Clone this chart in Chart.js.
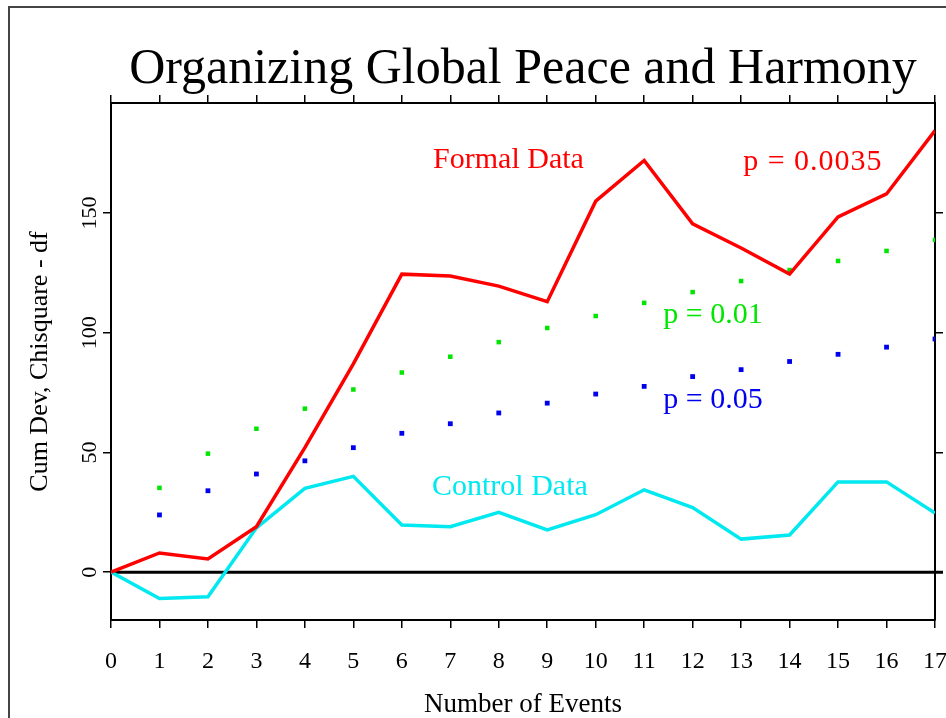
<!DOCTYPE html>
<html>
<head>
<meta charset="utf-8">
<title>Organizing Global Peace and Harmony</title>
<script src="https://cdn.jsdelivr.net/npm/chart.js@4/dist/chart.umd.min.js"></script>
<style>
  html, body { margin: 0; padding: 0; background: #fff; }
  #wrap { position: relative; width: 946px; height: 718px; }
</style>
</head>
<body>
<div id="wrap"><canvas id="chart" width="946" height="718"></canvas></div>
<script>
// ── data ─────────────────────────────────────────────────────────────────────

const events = [0, 1, 2, 3, 4, 5, 6, 7, 8, 9, 10, 11, 12, 13, 14, 15, 16, 17];
const formalData = [0, 8, 5.5, 19, 52, 87, 124.5, 123.7, 119.5, 113, 155, 172, 145.5, 135.4, 124.5, 148.4, 158, 184.5];
const controlData = [0, -11, -10.3, 18.5, 35, 40, 19.7, 19, 25, 17.6, 24, 34.4, 27, 13.8, 15.5, 37.7, 37.7, 24.7];

const thresholdEvents = [1, 2, 3, 4, 5, 6, 7, 8, 9, 10, 11, 12, 13, 14, 15, 16, 17];
const p01 = [35.2, 49.5, 59.9, 68.3, 76.3, 83.4, 90, 96.1, 102, 107, 112.5, 117, 121.6, 126.2, 130, 134.2, 138.8];
const p05 = [23.9, 34, 41, 46.5, 52, 58, 62, 66.5, 70.6, 74.4, 77.6, 81.7, 84.6, 88, 91, 94, 97.4];

const yTicks = [0, 50, 100, 150];

// text notes placed in data units
const notes = [
  { text: 'Formal Data', x: 8.2, y: 172, color: '#ff0000', spacing: 0 },
  { text: 'p = 0.0035', x: 14.48, y: 171.5, color: '#ff0000', spacing: 1 },
  { text: 'p = 0.01', x: 12.42, y: 107.3, color: '#00e600', spacing: 0 },
  { text: 'p = 0.05', x: 12.42, y: 71.7, color: '#0000ee', spacing: 0 },
  { text: 'Control Data', x: 8.23, y: 35.6, color: '#00e8f0', spacing: 0 },
];

// ── helpers ──────────────────────────────────────────────────────────────────

const SERIF = "'Liberation Serif', 'DejaVu Serif', serif";

function pts(xs, ys) {
  return xs.map((x, i) => ({ x, y: ys[i] }));
}

function fixBox(w, h) {
  return (s) => {
    if (w !== null) s.width = w;
    if (h !== null) s.height = h;
    s.paddingLeft = 0;
    s.paddingRight = 0;
    s.paddingTop = 0;
    s.paddingBottom = 0;
  };
}

const axisGrid = { drawOnChartArea: false, drawTicks: true, tickLength: 8, color: '#000', lineWidth: 1.5 };
const axisBorder = { display: true, color: '#000', width: 2 };

// ── plugins ──────────────────────────────────────────────────────────────────

const decor = {
  id: 'decor',
  beforeDraw(chart) {
    const { ctx, width, height, chartArea: a } = chart;
    ctx.save();
    ctx.fillStyle = '#fff';
    ctx.fillRect(0, 0, width, height);
    // outer frame (left and top edges visible)
    ctx.strokeStyle = '#444';
    ctx.lineWidth = 2;
    ctx.beginPath();
    ctx.moveTo(9, height);
    ctx.lineTo(9, 7);
    ctx.lineTo(width, 7);
    ctx.stroke();
    // title
    ctx.fillStyle = '#000';
    ctx.font = '50px ' + SERIF;
    ctx.textAlign = 'center';
    ctx.textBaseline = 'alphabetic';
    ctx.fillText('Organizing Global Peace and Harmony', (a.left + a.right) / 2, 83);
    ctx.restore();
  },
  beforeDatasetsDraw(chart) {
    const { ctx, chartArea: a, scales } = chart;
    const y0 = scales.y.getPixelForValue(0);
    ctx.save();
    ctx.strokeStyle = '#000';
    ctx.lineWidth = 3;
    ctx.beginPath();
    ctx.moveTo(a.left, y0);
    ctx.lineTo(a.right + 8, y0);
    ctx.stroke();
    ctx.restore();
  },
  afterDatasetsDraw(chart) {
    const { ctx, scales } = chart;
    ctx.save();
    ctx.font = '30px ' + SERIF;
    ctx.textAlign = 'center';
    ctx.textBaseline = 'middle';
    notes.forEach((n) => {
      ctx.fillStyle = n.color;
      ctx.letterSpacing = n.spacing + 'px';
      ctx.fillText(n.text, scales.x.getPixelForValue(n.x), scales.y.getPixelForValue(n.y));
    });
    ctx.restore();
  },
};

// ── chart ────────────────────────────────────────────────────────────────────

new Chart(document.getElementById('chart'), {
  type: 'line',
  data: {
    datasets: [
      {
        label: 'Formal Data',
        data: pts(events, formalData),
        borderColor: '#ff0000',
        borderWidth: 3.5,
        pointRadius: 0,
        tension: 0,
      },
      {
        label: 'Control Data',
        data: pts(events, controlData),
        borderColor: '#00e8f0',
        borderWidth: 3.5,
        pointRadius: 0,
        tension: 0,
      },
      {
        label: 'p = 0.01',
        data: pts(thresholdEvents, p01),
        showLine: false,
        pointStyle: 'rect',
        pointRadius: 3.2,
        pointBorderWidth: 0,
        pointBackgroundColor: '#00e600',
        borderColor: '#00e600',
      },
      {
        label: 'p = 0.05',
        data: pts(thresholdEvents, p05),
        showLine: false,
        pointStyle: 'rect',
        pointRadius: 3.4,
        pointBorderWidth: 0,
        pointBackgroundColor: '#0000ee',
        borderColor: '#0000ee',
      },
    ],
  },
  options: {
    responsive: false,
    animation: false,
    events: [],
    layout: { padding: { top: 90, left: 0, right: 0, bottom: 0 } },
    plugins: {
      legend: { display: false },
      tooltip: { enabled: false },
      title: { display: false },
    },
    scales: {
      x: {
        type: 'linear',
        position: 'bottom',
        min: 0,
        max: 17,
        grid: axisGrid,
        border: axisBorder,
        ticks: {
          stepSize: 1,
          color: '#000',
          padding: 19,
          maxRotation: 0,
          autoSkip: false,
          font: { family: SERIF, size: 24 },
        },
        title: {
          display: true,
          text: 'Number of Events',
          color: '#000',
          padding: { top: 0, bottom: -3 },
          font: { family: SERIF, size: 27 },
        },
        afterFit: fixBox(null, 98),
      },
      x2: {
        type: 'linear',
        position: 'top',
        min: 0,
        max: 17,
        grid: axisGrid,
        border: axisBorder,
        ticks: { stepSize: 1, display: false, autoSkip: false },
        afterFit: fixBox(null, 13),
      },
      y: {
        type: 'linear',
        position: 'left',
        min: -20,
        max: 196,
        grid: axisGrid,
        border: axisBorder,
        afterBuildTicks: (s) => { s.ticks = yTicks.map((v) => ({ value: v })); },
        ticks: {
          color: '#000',
          padding: -4,
          minRotation: 90,
          maxRotation: 90,
          crossAlign: 'center',
          font: { family: SERIF, size: 22 },
        },
        title: {
          display: true,
          text: 'Cum Dev, Chisquare - df',
          color: '#000',
          padding: { top: 25, bottom: 0 },
          font: { family: SERIF, size: 26 },
        },
        afterFit: fixBox(111, null),
      },
      y2: {
        type: 'linear',
        position: 'right',
        min: -20,
        max: 196,
        grid: axisGrid,
        border: axisBorder,
        afterBuildTicks: (s) => { s.ticks = yTicks.map((v) => ({ value: v })); },
        ticks: { display: false },
        afterFit: fixBox(11, null),
      },
    },
  },
  plugins: [decor],
});
</script>
</body>
</html>
